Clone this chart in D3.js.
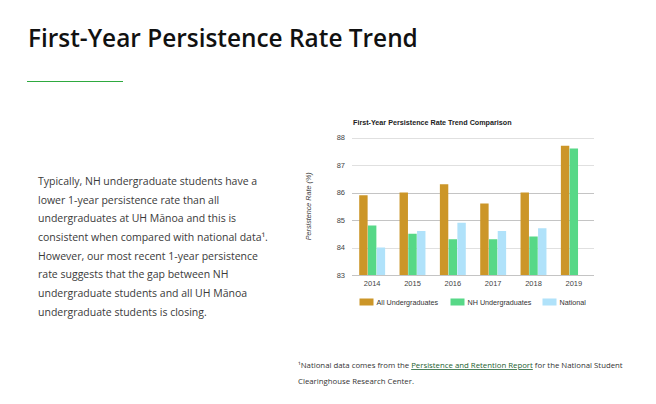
<!DOCTYPE html>
<html>
<head>
<meta charset="utf-8">
<script src="https://cdn.jsdelivr.net/npm/d3@7"></script>
<style>
  html, body { margin: 0; padding: 0; background: #fff; }
  svg { display: block; }
</style>
</head>
<body>
<svg id="page" width="656" height="404"></svg>
<script>
const years = ["2014", "2015", "2016", "2017", "2018", "2019"];
const seriesNames = ["All Undergraduates", "NH Undergraduates", "National"];
const allUndergrad = [85.9, 86.0, 86.3, 85.6, 86.0, 87.7];
const nhUndergrad = [84.8, 84.5, 84.3, 84.3, 84.4, 87.6];
const national = [84.0, 84.6, 84.9, 84.6, 84.7, null];
const yTicks = [83, 84, 85, 86, 87, 88];
const colors = ["#CC9628", "#57D887", "#B0E2FA"];

const pageTitle = "First-Year Persistence Rate Trend";
const chartTitle = "First-Year Persistence Rate Trend Comparison";
const yLabel = "Persistence Rate (%)";
const paragraph = [
  "Typically, NH undergraduate students have a",
  "lower 1-year persistence rate than all",
  "undergraduates at UH Mānoa and this is",
  "consistent when compared with national data¹.",
  "However, our most recent 1-year persistence",
  "rate suggests that the gap between NH",
  "undergraduate students and all UH Mānoa",
  "undergraduate students is closing."
];

const svg = d3.select("#page");
const sans = "'Open Sans', sans-serif";
const arial = "'Liberation Sans', Arial, sans-serif";

// Page title (fit to reference width)
const t = svg.append("text").attr("x", 28).attr("y", 47)
  .attr("font-family", sans).attr("font-size", 24).attr("font-weight", 600)
  .attr("fill", "#111").text(pageTitle);
const tw = t.node().getComputedTextLength();
if (tw > 0) t.attr("font-size", 24 * 390 / tw);
svg.append("line").attr("x1", 27).attr("x2", 123).attr("y1", 81.5).attr("y2", 81.5)
  .attr("stroke", "#2eaa3f").attr("stroke-width", 1);

// Paragraph
const para = svg.append("text").attr("font-family", sans).attr("font-size", 10.5)
  .attr("fill", "#3a3a3a");
paragraph.forEach((l, i) => {
  para.append("tspan").attr("x", 38).attr("y", 185 + i * 18.65).text(l);
});

// Footnote
const fn = svg.append("text").attr("font-family", sans).attr("font-size", 7.8)
  .attr("fill", "#333");
const l1 = fn.append("tspan").attr("x", 298).attr("y", 368);
l1.append("tspan").text("¹National data comes from the ");
l1.append("tspan").attr("fill", "#1b5e30").attr("text-decoration", "underline")
  .text("Persistence and Retention Report");
l1.append("tspan").text(" for the National Student");
fn.append("tspan").attr("x", 298).attr("y", 384).text("Clearinghouse Research Center.");

// Chart
const plot = { left: 352, right: 594, top: 137.5, bottom: 275 };
const x0 = d3.scaleBand().domain(years).range([plot.left, plot.right])
  .paddingInner(0.34).paddingOuter(0.17);
const x1 = d3.scaleBand().domain(seriesNames).range([0, x0.bandwidth()]).padding(0.04);
const y = d3.scaleLinear().domain([83, 88]).range([plot.bottom, plot.top]);

svg.append("text").attr("x", 353).attr("y", 125)
  .attr("font-family", arial).attr("font-size", 7.2).attr("font-weight", "bold")
  .attr("fill", "#222").text(chartTitle);

// Grid
const g = svg.append("g");
g.selectAll("line.grid").data(yTicks).join("line")
  .attr("x1", plot.left).attr("x2", plot.right)
  .attr("y1", d => Math.round(y(d)) + 0.5).attr("y2", d => Math.round(y(d)) + 0.5)
  .attr("stroke", d => (d === 83 || d === 85 || d === 86) ? "#c4c4c4" : "#e0e0e0").attr("stroke-width", 1);

// Y axis labels
const yAxis = d3.axisLeft(y).tickValues(yTicks).tickFormat(d3.format("d")).tickSize(0).tickPadding(7);
const ya = svg.append("g").attr("transform", `translate(${plot.left},0)`).call(yAxis);
ya.select(".domain").remove();
ya.selectAll("text").attr("font-family", arial).attr("font-size", 7.5).attr("fill", "#444");

// X axis labels
const xAxis = d3.axisBottom(x0).tickSize(0).tickPadding(6);
const xa = svg.append("g").attr("transform", `translate(0,${plot.bottom})`).call(xAxis);
xa.select(".domain").remove();
xa.selectAll("text").attr("font-family", arial).attr("font-size", 7.5).attr("fill", "#444");

// Y label
svg.append("text").attr("transform", `translate(311,${(plot.top + plot.bottom) / 2}) rotate(-90)`)
  .attr("text-anchor", "middle").attr("font-family", arial).attr("font-size", 7.2)
  .attr("font-style", "italic").attr("fill", "#444").text(yLabel);

// Bars
const seriesData = [allUndergrad, nhUndergrad, national];
const bars = [];
years.forEach((yr, i) => {
  seriesNames.forEach((s, j) => {
    const v = seriesData[j][i];
    if (v != null) bars.push({ yr, s, v, c: colors[j] });
  });
});
svg.append("g").selectAll("rect").data(bars).join("rect")
  .attr("x", d => x0(d.yr) + x1(d.s))
  .attr("width", x1.bandwidth())
  .attr("y", d => y(d.v))
  .attr("height", d => y(83) - y(d.v))
  .attr("fill", d => d.c);

// Legend
const legendX = [359.5, 450.5, 542.5];
const lg = svg.append("g");
seriesNames.forEach((s, j) => {
  lg.append("rect").attr("x", legendX[j]).attr("y", 298.5).attr("width", 14).attr("height", 7)
    .attr("fill", colors[j]);
  lg.append("text").attr("x", legendX[j] + 17).attr("y", 305)
    .attr("font-family", arial).attr("font-size", 7.2).attr("fill", "#333").text(s);
});
</script>
</body>
</html>
